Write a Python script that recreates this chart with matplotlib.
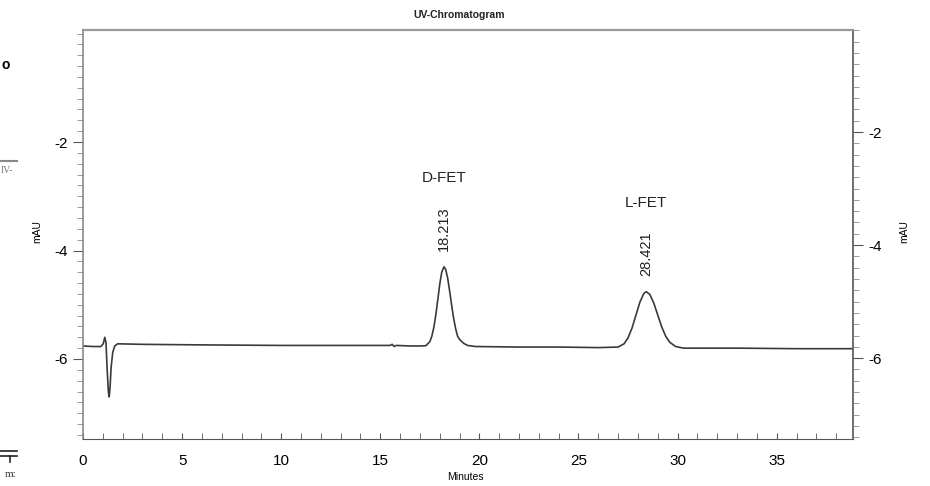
import matplotlib.pyplot as plt
from matplotlib.ticker import MultipleLocator
from matplotlib.lines import Line2D

plt.rcParams['font.family'] = ['Liberation Sans', 'DejaVu Sans']
plt.rcParams['axes.unicode_minus'] = False

# UV trace, minutes vs mAU
time = [0.0, 0.5, 0.9, 1.02, 1.10, 1.16, 1.22, 1.28, 1.32, 1.36, 1.42, 1.50, 1.60, 1.75,
        3.0, 6.0, 10.0, 14.0, 15.5, 15.6, 15.7, 15.8, 16.5, 17.0, 17.3,
        17.5, 17.6, 17.7, 17.8, 17.9, 18.0, 18.1, 18.213, 18.3, 18.4, 18.5, 18.6,
        18.7, 18.8, 18.9, 19.0, 19.2, 19.4, 19.8,
        22.0, 24.0, 26.0, 27.0, 27.3, 27.5, 27.7, 27.9, 28.1, 28.3, 28.421,
        28.6, 28.8, 29.0, 29.2, 29.4, 29.6, 29.9, 30.3, 33.0, 36.0, 38.85]
signal = [-5.76, -5.77, -5.77, -5.72, -5.60, -5.70, -6.20, -6.60, -6.70, -6.55, -6.15, -5.88, -5.76, -5.72,
          -5.73, -5.74, -5.75, -5.75, -5.75, -5.73, -5.77, -5.75, -5.76, -5.76, -5.755,
          -5.68, -5.58, -5.42, -5.19, -4.91, -4.62, -4.40, -4.30, -4.35, -4.51, -4.75, -5.01,
          -5.25, -5.44, -5.58, -5.64, -5.71, -5.75, -5.77,
          -5.78, -5.78, -5.79, -5.78, -5.72, -5.61, -5.43, -5.19, -4.95, -4.79, -4.76,
          -4.81, -4.97, -5.19, -5.41, -5.58, -5.69, -5.77, -5.80, -5.80, -5.81, -5.81]

peak_names = ['D-FET', 'L-FET']
peak_times = [18.213, 28.421]
peak_tops = [-4.30, -4.76]

W, H = 930, 486
fig = plt.figure(figsize=(W / 100, H / 100), dpi=100)
ax = fig.add_axes([83 / W, 1 - 439 / H, 770 / W, 409 / H])

ax.plot(time, signal, color='#3a3a3a', lw=1.2)
ax.set_xlim(0, 38.85)
ax.set_ylim(-7.475, 0.065)

# peak annotations: retention time + compound name
for name, rt, top in zip(peak_names, peak_times, peak_tops):
    ax.annotate('%.3f' % rt, xy=(rt, top), xytext=(0, 16), textcoords='offset pixels',
                rotation=90, ha='center', va='bottom', fontsize=10.5, color='#222222')
    ax.annotate(name, xy=(rt, top), xytext=(0, 89), textcoords='offset pixels',
                ha='center', va='center', fontsize=11, color='#222222')

ax.xaxis.set_major_locator(MultipleLocator(5))
ax.xaxis.set_minor_locator(MultipleLocator(1))
ax.yaxis.set_major_locator(MultipleLocator(2))
ax.yaxis.set_minor_locator(MultipleLocator(0.2))
ax.tick_params(axis='x', which='both', direction='in', length=4, color='#555555',
               labelsize=11, pad=11)
ax.tick_params(axis='y', which='major', direction='out', length=7, color='#555555',
               labelsize=11, pad=4)
ax.tick_params(axis='y', which='minor', direction='out', length=4, color='#888888')
ax.set_yticks([-2, -4, -6])

ax.spines['top'].set_color('#9a9a9a')
ax.spines['top'].set_linewidth(1.6)
ax.spines['left'].set_color('#8a8a8a')
ax.spines['left'].set_linewidth(1.2)
ax.spines['bottom'].set_color('#555555')
ax.spines['right'].set_color('#555555')
ax.spines['right'].set_linewidth(1.2)

# right-hand axis of the instrument printout
ax2 = ax.twinx()
ax2.set_ylim(-7.43, -0.195)
ax2.set_yticks([-2, -4, -6])
ax2.yaxis.set_minor_locator(MultipleLocator(0.2))
ax2.tick_params(axis='y', which='major', direction='out', length=7, color='#555555',
                labelsize=11, pad=4)
ax2.tick_params(axis='y', which='minor', direction='out', length=4, color='#888888')
for s in ax2.spines.values():
    s.set_visible(False)

fig.text(459 / W, 1 - 15 / H, 'UV-Chromatogram', ha='center', va='center',
         fontsize=7.5, fontweight='bold', color='#222222')
fig.text(465 / W, 1 - 477 / H, 'Minutes', ha='center', va='center', fontsize=7.5)
fig.text(37 / W, 1 - 232 / H, 'mAU', ha='center', va='center', rotation=90, fontsize=7.5)
fig.text(904 / W, 1 - 232 / H, 'mAU', ha='center', va='center', rotation=90, fontsize=7.5)

# scraps of the neighbouring panel at the left edge
fig.text(1 / W, 1 - 65 / H, 'o', ha='left', va='center', fontsize=10, fontweight='bold')
fig.add_artist(Line2D([0, 17 / W], [1 - 161 / H, 1 - 161 / H], color='#888888', lw=1.5))
fig.text(1 / W, 1 - 170 / H, 'IV-', ha='left', va='center', fontsize=7,
         family='Liberation Serif', color='#777777')
fig.add_artist(Line2D([0, 17 / W], [1 - 451 / H, 1 - 451 / H], color='#222222', lw=1.2))
fig.add_artist(Line2D([0, 17 / W], [1 - 456 / H, 1 - 456 / H], color='#222222', lw=1.2))
fig.add_artist(Line2D([10 / W, 10 / W], [1 - 456 / H, 1 - 462 / H], color='#222222', lw=1.2))
fig.text(5 / W, 1 - 474 / H, 'm:', ha='left', va='center', fontsize=8,
         family='Liberation Serif', color='#333333')

fig.savefig('out.png', dpi=100)
